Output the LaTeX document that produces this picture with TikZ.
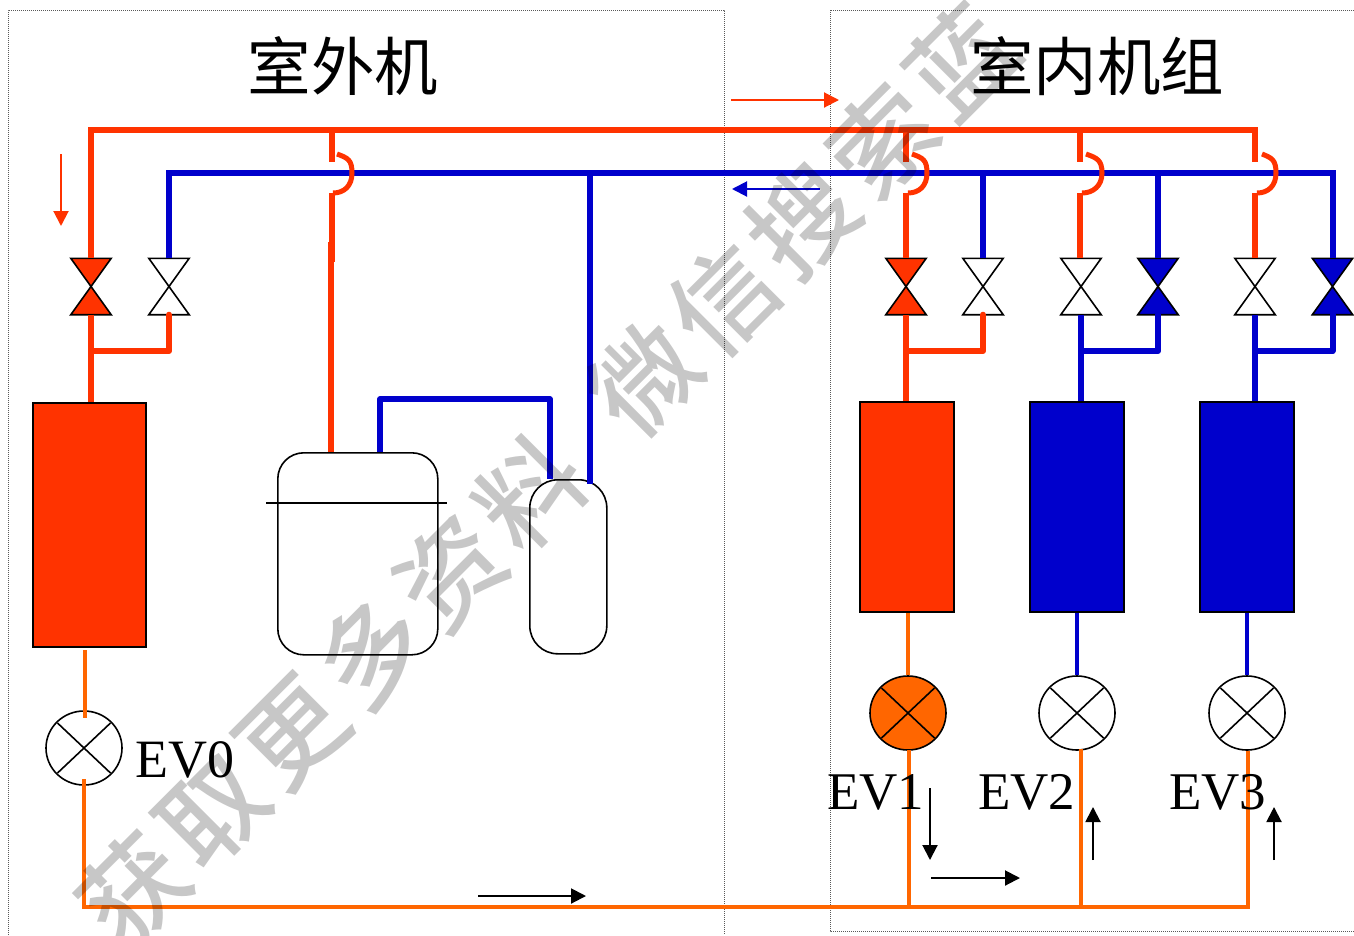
\documentclass[tikz,border=0pt]{standalone}
\usepackage{fontspec}
\usetikzlibrary{arrows.meta,shapes.geometric,calc}
\setmainfont{Liberation Serif}
\newfontfamily\cjk{Noto Sans CJK SC}
\newfontfamily\wmfont[LetterSpace=8]{Noto Sans CJK SC Medium}
\definecolor{hot}{HTML}{FF3300}
\definecolor{cold}{HTML}{0000CC}
\definecolor{liq}{HTML}{FF6600}
\tikzset{
  pipehot/.style={draw=hot,line width=6pt},
  pipecold/.style={draw=cold,line width=6pt},
  jump/.style={draw=hot,line width=5pt},
  liqline/.style={draw=liq,line width=4pt},
  coldthin/.style={draw=cold,line width=4.5pt},
  frame/.style={draw=black!65,line width=1pt,dash pattern=on 1pt off 1pt},
  flow/.style={line width=2pt,-{Triangle[length=15pt,width=15pt]}},
  coil/.style={draw=black,line width=2pt,inner sep=0pt,anchor=north west},
  vessel/.style={draw=black,line width=1.6pt,fill=white,inner sep=0pt,anchor=north west},
  valvebox/.style={inner sep=0pt,minimum width=40pt,minimum height=56pt},
  evbox/.style={draw=black,line width=1.6pt,ellipse,inner sep=0pt,minimum width=76pt,minimum height=74pt},
  lbl/.style={font=\fontsize{54}{54}\selectfont,inner sep=0pt,anchor=base west},
  lblb/.style={font=\fontsize{53}{53}\selectfont,inner sep=0pt,anchor=base west},
  ttl/.style={font=\cjk\fontsize{63.5}{64}\selectfont,inner sep=0pt}
}
\newcommand{\valveat}[4]{%
  \node[valvebox] (#1) at (#2,#3) {};
  \filldraw[fill=#4,draw=black,line width=1.6pt,line join=miter]
    (#1.north west) -- (#1.north east) -- (#1.south west) -- (#1.south east) -- cycle;}
\newcommand{\evat}[4]{%
  \node[evbox,fill=#4] (#1) at (#2,#3) {};
  \draw[line width=1.6pt] ($(#1.center)+(-26.5,-25)$) -- ($(#1.center)+(26.5,25)$)
    ($(#1.center)+(-26.5,25)$) -- ($(#1.center)+(26.5,-25)$);}
\begin{document}
\begin{tikzpicture}[x=1pt,y=-1pt]
\useasboundingbox (0,0) rectangle (1354,935);
% unit frames
\coordinate (fa) at (8,935); \coordinate (fb) at (8,10); \coordinate (fc) at (724,10); \coordinate (fd) at (724,935);
\coordinate (ga) at (1354,10); \coordinate (gb) at (830,10); \coordinate (gc) at (830,931); \coordinate (gd) at (1354,931);
\draw[frame] (fa) -- (fb) -- (fc) -- (fd);
\draw[frame] (ga) -- (gb) -- (gc) -- (gd);
% titles
\node[ttl] (t1) at (343,66) {室外机};
\node[ttl] (t2) at (1097,66) {室内机组};
% main junctions
\foreach \n/\x/\y in {
 r0/91/130, r1/332/130, r2/906/130, r3/1080/130, r4/1255/130,
 b0/169/173, b1/590/173, b2/983/173, b3/1158/173, b4/1332.5/173,
 s1/332/162, e1/332/193, p1/337/154, q1/333/193, m1/352/173,
 s2/906/162, e2/906/193, p2/912/154, q2/908/193, m2/927/173,
 s3/1080/162, e3/1080/193, p3/1086/154, q3/1082/193, m3/1102/173,
 s4/1255/162, e4/1255/193, p4/1262/154, q4/1257/193, m4/1276/173,
 j0/91/351, k0/169/351, j1/906/351, k1/983/351, j2/1081/351, k2/1158/351, j3/1255/351, k3/1332.5/351,
 d1/331/242, d2/332/262, c0/380/399, c1/550/399,
 l0/84/907, l1/909/907, l2/1081/907, l3/1248/907}
  {\coordinate (\n) at (\x,\y);}
% valves
\valveat{V0}{91}{286.5}{hot}
\valveat{V1}{169}{286.5}{white}
\valveat{V2}{906}{286.5}{hot}
\valveat{V3}{983}{286.5}{white}
\valveat{V4}{1081}{286.5}{white}
\valveat{V5}{1158}{286.5}{cold}
\valveat{V6}{1255}{286.5}{white}
\valveat{V7}{1332.5}{286.5}{cold}
% coils and vessels
\node[coil,fill=hot,minimum width=113pt,minimum height=244pt] (H0) at (32,402) {};
\node[coil,fill=hot,minimum width=94pt,minimum height=210pt] (H1) at (859,401) {};
\node[coil,fill=cold,minimum width=94pt,minimum height=210pt] (H2) at (1029,401) {};
\node[coil,fill=cold,minimum width=94pt,minimum height=210pt] (H3) at (1199,401) {};
\node[vessel,rounded corners=26pt,minimum width=160pt,minimum height=202pt] (CP) at (277,452) {};
\node[vessel,rounded corners=28pt,minimum width=77pt,minimum height=174pt] (AC) at (529,479) {};
\coordinate (cl) at (266,503); \coordinate (cr) at (447,503);
\draw[line width=1.6pt] (cl) -- (cr);
% blue gas header and drops
\draw[pipecold,line cap=butt,line join=miter] (V1.north) -- (V1.north |- b0) -- (b4) -- (V7.north);
\draw[pipecold] (b2) -- (V3.north);
\draw[pipecold] (b3) -- (V5.north);
\draw[pipecold] (b1) -- (b1 |- AC.north) -- ++(0,5);
% red header and drops
\draw[pipehot,line join=miter] (V0.north) -- (r0) -- (r4) -- (s4);
\draw[pipehot] (r1) -- (s1);
\draw[pipehot] (r2) -- (s2);
\draw[pipehot] (r3) -- (s3);
\draw[jump] (p1) .. controls ($(p1)+(11,4)$) and (m1 |- 0,160) .. (m1) .. controls (m1 |- 0,186) and ($(q1)+(11,0)$) .. (q1);
\draw[jump] (p2) .. controls ($(p2)+(11,4)$) and (m2 |- 0,160) .. (m2) .. controls (m2 |- 0,186) and ($(q2)+(11,0)$) .. (q2);
\draw[jump] (p3) .. controls ($(p3)+(11,4)$) and (m3 |- 0,160) .. (m3) .. controls (m3 |- 0,186) and ($(q3)+(11,0)$) .. (q3);
\draw[jump] (p4) .. controls ($(p4)+(10,4)$) and (m4 |- 0,160) .. (m4) .. controls (m4 |- 0,186) and ($(q4)+(11,0)$) .. (q4);
\draw[pipehot] (e1) -- (d2);
\draw[pipehot] (d1) -- (d1 |- CP.north);
\draw[pipehot] (e2) -- (V2.north);
\draw[pipehot] (e3) -- (e3 |- V4.north);
\draw[pipehot] (e4) -- (V6.north);
% below the valves
\draw[pipehot] (V0.south) -- (V0.south |- H0.north);
\draw[pipehot,line cap=round,line join=round] (j0) -- (k0) -- (V1.south);
\draw[pipehot] (V2.south) -- (V2.south |- H1.north);
\draw[pipehot,line cap=round,line join=round] (j1) -- (k1) -- (V3.south);
\draw[pipecold] (V4.south) -- (V4.south |- H2.north);
\draw[pipecold,line cap=round,line join=round] (j2) -- (k2) -- (V5.south);
\draw[pipecold] (V6.south) -- (V6.south |- H3.north);
\draw[pipecold,line cap=round,line join=round] (j3) -- (k3) -- (V7.south);
% compressor piping
\draw[pipecold,line width=5.5pt,line join=round] (c0 |- CP.north) -- (c0) -- (c1) -- (c1 |- AC.north);
% expansion valves
\evat{E0}{84}{748}{white}
\evat{E1}{908}{713}{liq}
\evat{E2}{1077}{713}{white}
\evat{E3}{1247}{713}{white}
\coordinate (h0) at (85,650); \coordinate (h1) at (85,718);
\draw[liqline] (h0) -- (h1);
\draw[liqline] (E1.north |- H1.south) -- (E1.north);
\draw[coldthin] (E2.north |- H2.south) -- (E2.north);
\draw[coldthin] (E3.north |- H3.south) -- (E3.north);
\coordinate (u0) at (84,779); \coordinate (u1) at (909,750); \coordinate (u2) at (1081,749); \coordinate (u3) at (1248,751);
\draw[liqline,line join=miter] (u0) -- (l0) -- (l3) -- (u3);
\draw[liqline] (u1) -- (l1);
\draw[liqline] (u2) -- (l2);
% labels
\node[lbl] (n0) at (135,777) {EV0};
\node[lblb] (n1) at (827,809) {EV1};
\node[lblb] (n2) at (978,809) {EV2};
\node[lblb] (n3) at (1169,809) {EV3};
% flow arrows
\foreach \n/\x/\y in {a0/731/100,a1/839/100,a2/61/154,a3/61/226,a4/820/189,a5/732/189,a6/478/896,a7/586/896,a8/930/788,a9/930/860,a10/931/878,a11/1020/878,a12/1093/860,a13/1093/807,a14/1274/860,a15/1274/807}
  {\coordinate (\n) at (\x,\y);}
\draw[flow,draw=hot,fill=hot] (a0) -- (a1);
\draw[flow,draw=hot,fill=hot] (a2) -- (a3);
\draw[flow,draw=cold,fill=cold] (a4) -- (a5);
\draw[flow] (a6) -- (a7);
\draw[flow] (a8) -- (a9);
\draw[flow] (a10) -- (a11);
\draw[flow] (a12) -- (a13);
\draw[flow] (a14) -- (a15);
% overlay
\begin{scope}
\clip (0,0) rectangle (1354,935);
\node[font=\wmfont\fontsize{104}{104}\selectfont,text=black,text opacity=0.22,rotate=45,inner sep=0pt,anchor=west] (wm) at (96,927) {获取更多资料\hspace{57pt}微信搜索蓝};
\end{scope}
\end{tikzpicture}
\end{document}
